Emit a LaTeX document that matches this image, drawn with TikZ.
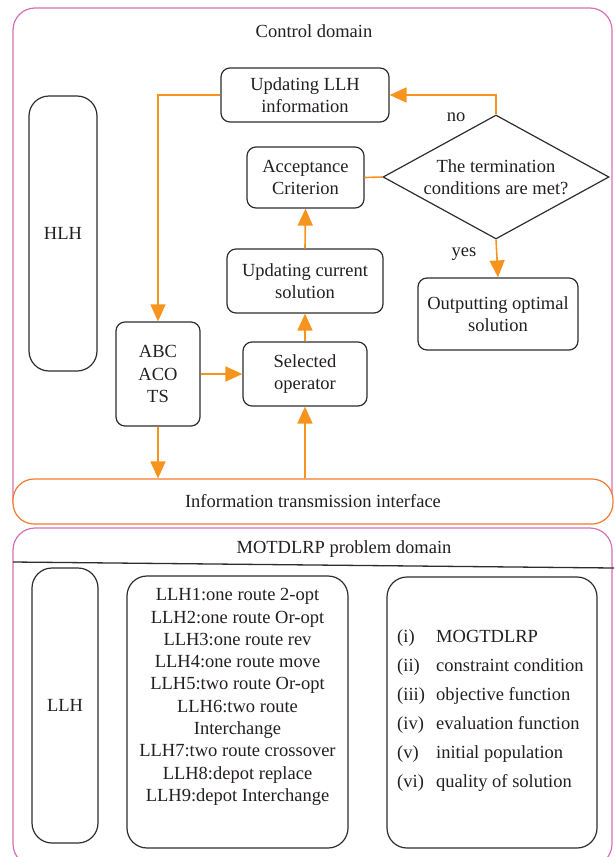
\documentclass[tikz,border=0pt]{standalone}
\usepackage{fontspec}
\setmainfont{Liberation Serif}
\usetikzlibrary{arrows.meta,shapes.geometric}
\definecolor{pinkc}{RGB}{214,112,184}
\definecolor{orangec}{RGB}{247,148,30}
\definecolor{itfc}{RGB}{242,122,48}
\definecolor{boxc}{RGB}{45,45,45}
\definecolor{txtc}{RGB}{35,31,32}
\begin{document}
\begin{tikzpicture}[x=1pt,y=-1pt,
  every node/.style={font=\fontsize{18.5}{21.5}\selectfont, text=txtc, inner sep=0pt},
  box/.style={draw=boxc, line width=1.2pt, rounded corners=9pt, align=center},
  tallbox/.style={box, rounded corners=20pt},
  arr/.style={draw=orangec, line width=1.6pt, -{Triangle[length=17pt,width=15pt]}},
  link/.style={draw=orangec, line width=1.6pt},
  domainbox/.style={draw=pinkc, line width=1.2pt, rounded corners=22pt}
]
\useasboundingbox (0,0) rectangle (614,857);
\clip (0,0) rectangle (614,857);

% domains
\node[domainbox, minimum width=599pt, minimum height=514pt] (ctrl) at (312.5,265) {};
\node[domainbox, minimum width=599pt, minimum height=338pt] (prob) at (312.5,697) {};
\node[draw=itfc, line width=1.2pt, fill=white, rounded corners=21pt,
      minimum width=600pt, minimum height=45pt] (itf) at (313,501.5) {Information transmission interface};

\node (ctitle) at (314,31) {Control domain};
\node (ptitle) at (344,549) {MOTDLRP problem domain};
\draw[boxc, line width=1.3pt] (13,562) -- (614,568);

% control domain nodes
\node[box, minimum width=168pt, minimum height=54pt] (upd) at (305,95) {Updating LLH\\information};
\node[tallbox, minimum width=68pt, minimum height=275pt] (hlh) at (63,233.5) {HLH};
\node[draw=boxc, line width=1.2pt, diamond, minimum width=226pt, minimum height=124pt] (dia) at (496,177) {};
\node[align=center] (diatext) at (dia.center) {The termination\\conditions are met?};
\node[box, minimum width=117pt, minimum height=61pt] (acc) at (305.5,177.5) {Acceptance\\Criterion};
\node[box, minimum width=156pt, minimum height=64pt] (cur) at (305,281) {Updating current\\solution};
\node[box, minimum width=160pt, minimum height=72pt] (out) at (498,314) {Outputting optimal\\solution};
\node[box, minimum width=84pt, minimum height=104pt, font=\fontsize{18.5}{22.5}\selectfont] (abc) at (158,374) {ABC\\ACO\\TS};
\node[box, minimum width=124pt, minimum height=64pt] (sel) at (305,374) {Selected\\operator};

\node (no) at (456,117) {no};
\node (yes) at (464,254) {yes};

% connectors
\draw[arr] (dia.north) |- (upd.east);
\draw[arr] (upd.west) -| (abc.north);
\draw[arr] (abc.east) -- (sel.west);
\draw[arr] (sel.north) -- (cur.south);
\draw[arr] (cur.north) -- (acc.south);
\draw[link] (acc.east) -- (dia.west);
\draw[arr] (dia.south) -- (out.north);
\coordinate (itfA) at (abc.south |- itf.north);
\coordinate (itfB) at (sel.south |- itf.north);
\draw[arr] (abc.south) -- (itfA);
\draw[arr] (itfB) -- (sel.south);

% problem domain nodes
\node[tallbox, minimum width=66pt, minimum height=275pt] (llh) at (65,705.5) {LLH};
\node[tallbox, minimum width=221pt, minimum height=272pt] (mid) at (237.5,712) {};
\node[align=center, font=\fontsize{18.5}{22.3}\selectfont] (midlist) at (237.5,697)
  {LLH1:one route 2-opt\\LLH2:one route Or-opt\\LLH3:one route rev\\LLH4:one route move\\LLH5:two route Or-opt\\LLH6:two route\\Interchange\\LLH7:two route crossover\\LLH8:depot replace\\LLH9:depot Interchange};
\node[tallbox, minimum width=210pt, minimum height=271pt] (rgt) at (492,712.5) {};
\node[anchor=west] (rgtlist) at (397,711)
  {\begin{tabular}{@{}p{39pt}@{}l@{}}
   (i) & MOGTDLRP\\[7.5pt]
   (ii) & constraint condition\\[7.5pt]
   (iii) & objective function\\[7.5pt]
   (iv) & evaluation function\\[7.5pt]
   (v) & initial population\\[7.5pt]
   (vi) & quality of solution
   \end{tabular}};
\end{tikzpicture}
\end{document}
